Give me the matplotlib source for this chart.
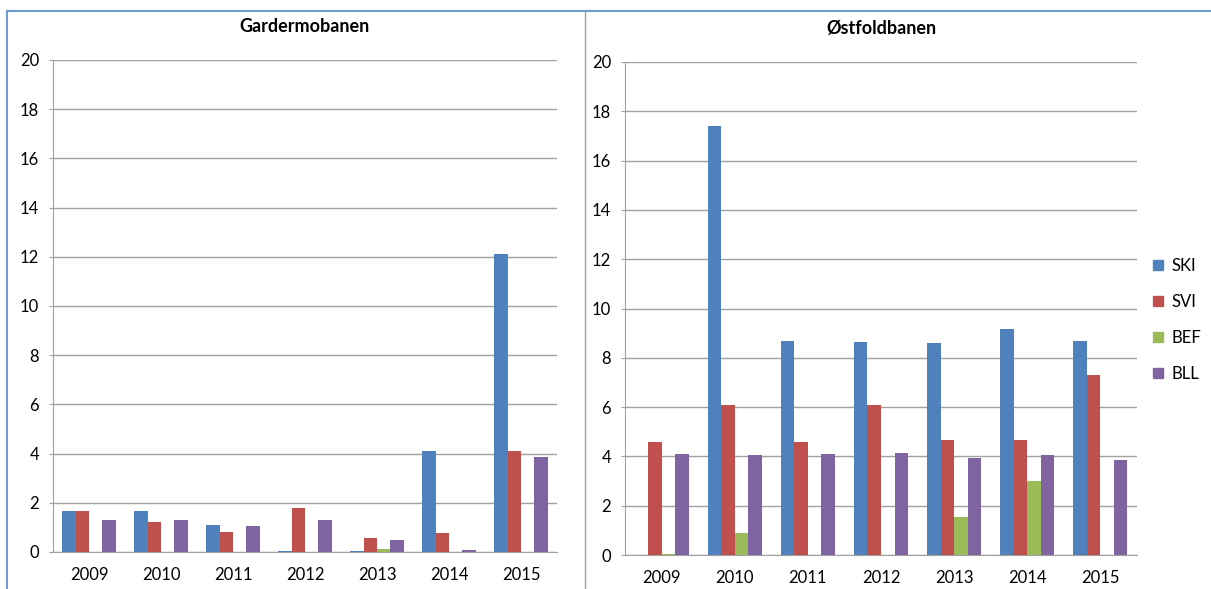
import matplotlib.pyplot as plt
import numpy as np
from matplotlib.lines import Line2D
from matplotlib.patches import Patch

plt.rcParams['font.family'] = ['Lato', 'DejaVu Sans']

years = ['2009', '2010', '2011', '2012', '2013', '2014', '2015']
series = ['SKI', 'SVI', 'BEF', 'BLL']
colors = ['#4F81BD', '#C0504D', '#9BBB59', '#8064A2']

# Gardermobanen
gard_ski = [1.65, 1.65, 1.08, 0.05, 0.05, 4.1, 12.1]
gard_svi = [1.65, 1.22, 0.82, 1.78, 0.58, 0.78, 4.1]
gard_bef = [0, 0, 0, 0, 0.13, 0, 0]
gard_bll = [1.32, 1.32, 1.05, 1.32, 0.47, 0.08, 3.85]

# Østfoldbanen
ost_ski = [0, 17.4, 8.7, 8.65, 8.6, 9.15, 8.7]
ost_svi = [4.6, 6.1, 4.6, 6.1, 4.65, 4.65, 7.3]
ost_bef = [0.05, 0.9, 0, 0, 1.55, 3.0, 0]
ost_bll = [4.08, 4.05, 4.08, 4.12, 3.92, 4.05, 3.85]

W, H = 1211, 589
fig = plt.figure(figsize=(W / 100, H / 100), dpi=100)


def px_axes(x0, x1, ytop, ybot):
    return fig.add_axes([x0 / W, (H - ybot) / H, (x1 - x0) / W, (ybot - ytop) / H])


def draw(ax, data, title):
    x = np.arange(len(years))
    bw = 0.185
    for i, vals in enumerate(data):
        ax.bar(x + (i - 1.5) * bw, vals, bw, color=colors[i], zorder=3)
    ax.set_xlim(-0.5, len(years) - 0.5)
    ax.set_ylim(0, 20)
    ax.set_yticks(range(0, 21, 2))
    ax.set_xticks(x)
    ax.set_xticklabels(years)
    ax.grid(axis='y', color='#A0A0A0', linewidth=1, zorder=0)
    for s in ['top', 'right']:
        ax.spines[s].set_visible(False)
    ax.spines['left'].set_color('#A0A0A0')
    ax.spines['bottom'].set_color('#A0A0A0')
    ax.tick_params(axis='y', length=3, color='#A0A0A0', labelsize=12, pad=7)
    ax.tick_params(axis='x', length=0, labelsize=12, pad=11)
    ax.set_title(title, fontsize=13, fontweight='bold', pad=20)


ax1 = px_axes(53, 557, 60, 552)
draw(ax1, [gard_ski, gard_svi, gard_bef, gard_bll], 'Gardermobanen')

ax2 = px_axes(625, 1137, 62, 555)
draw(ax2, [ost_ski, ost_svi, ost_bef, ost_bll], 'Østfoldbanen')

handles = [Patch(color=c) for c in colors]
fig.legend(handles, series, loc='center left', bbox_to_anchor=(1138 / W, 1 - 320 / H),
           frameon=False, fontsize=12, handlelength=0.6, handleheight=0.6,
           labelspacing=1.2, handletextpad=0.5)

# frame lines
fig.add_artist(Line2D([7 / W, 1], [1 - 11 / H, 1 - 11 / H], color='#6F9BD1', lw=1.5))
fig.add_artist(Line2D([7 / W, 7 / W], [0, 1 - 11 / H], color='#6F9BD1', lw=1.5))
fig.add_artist(Line2D([585 / W, 585 / W], [0, 1 - 12 / H], color='#A0A0A0', lw=1))

fig.savefig('out.png', dpi=100)
